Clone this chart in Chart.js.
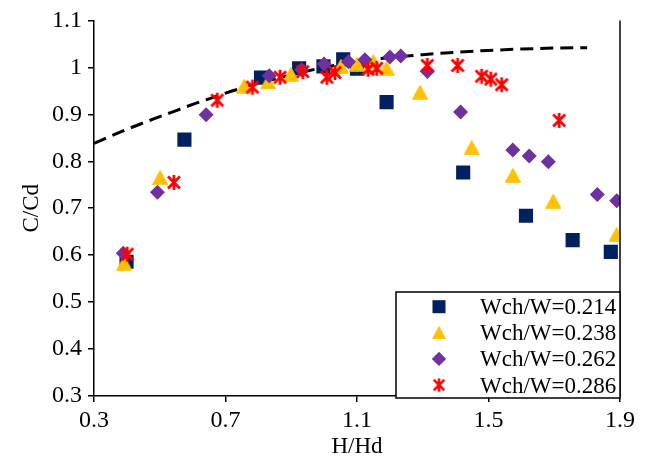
<!DOCTYPE html>
<html>
<head>
<meta charset="utf-8">
<script src="https://cdn.jsdelivr.net/npm/chart.js@4/dist/chart.umd.min.js"></script>
<style>
  html, body { margin: 0; padding: 0; background: #ffffff; }
  #wrap { width: 645px; height: 462px; }
</style>
</head>
<body>
<div id="wrap"><canvas id="c" width="645" height="462"></canvas></div>
<script>
// ---------------- data ----------------
const seriesLabels = ['Wch/W=0.214', 'Wch/W=0.238', 'Wch/W=0.262', 'Wch/W=0.286'];

const s214X = [0.399, 0.575, 0.808, 0.924, 0.998, 1.058, 1.100, 1.190, 1.423, 1.614, 1.756, 1.872];
const s214Y = [0.586, 0.846, 0.978, 0.998, 1.002, 1.017, 0.997, 0.926, 0.776, 0.684, 0.632, 0.607];

const s238X = [0.392, 0.501, 0.757, 0.830, 0.899, 1.051, 1.100, 1.150, 1.190, 1.292, 1.449, 1.574, 1.697, 1.890];
const s238Y = [0.583, 0.765, 0.960, 0.969, 0.985, 1.002, 1.007, 1.012, 0.998, 0.947, 0.829, 0.770, 0.715, 0.644];

const s262X = [0.389, 0.493, 0.641, 0.833, 0.932, 1.000, 1.074, 1.124, 1.200, 1.233, 1.314, 1.415, 1.574, 1.624, 1.682, 1.831, 1.890];
const s262Y = [0.604, 0.734, 0.899, 0.982, 0.995, 1.007, 1.012, 1.016, 1.022, 1.024, 0.991, 0.905, 0.824, 0.811, 0.799, 0.729, 0.716];

const s286X = [0.401, 0.543, 0.675, 0.782, 0.866, 0.935, 1.008, 1.033, 1.134, 1.160, 1.314, 1.406, 1.479, 1.507, 1.540, 1.715];
const s286Y = [0.602, 0.755, 0.930, 0.958, 0.979, 0.991, 0.979, 0.989, 0.996, 0.998, 1.004, 1.004, 0.981, 0.975, 0.963, 0.887];

const curveX = [0.30, 0.40, 0.50, 0.55, 0.60, 0.65, 0.70, 0.75, 0.80, 0.90, 1.00, 1.10, 1.20, 1.30, 1.40, 1.50, 1.60, 1.70, 1.80];
const curveY = [0.838, 0.868, 0.895, 0.908, 0.921, 0.933, 0.945, 0.956, 0.966, 0.984, 1.000, 1.012, 1.021, 1.027, 1.032, 1.036, 1.039, 1.041, 1.042];

const xTicks = [0.3, 0.7, 1.1, 1.5, 1.9];
const xTickLabels = ['0.3', '0.7', '1.1', '1.5', '1.9'];
const yTicks = [0.3, 0.4, 0.5, 0.6, 0.7, 0.8, 0.9, 1.0, 1.1];
const yTickLabels = ['0.3', '0.4', '0.5', '0.6', '0.7', '0.8', '0.9', '1', '1.1'];

const xTitle = 'H/Hd';
const yTitle = 'C/Cd';

// ---------------- styles ----------------
const FONT = '"Liberation Serif", "Times New Roman", serif';
const NAVY = '#002060', GOLD = '#FFC000', PURPLE = '#7030A0', RED = '#FF0000';

function pts(xs, ys) { return xs.map((x, i) => ({ x: x, y: ys[i] })); }

function makeTriangle() {
  const c = document.createElement('canvas');
  c.width = 16; c.height = 15;
  const g = c.getContext('2d');
  g.fillStyle = GOLD; g.strokeStyle = GOLD; g.lineWidth = 1.2; g.lineJoin = 'round';
  g.beginPath();
  g.moveTo(8, 0.8); g.lineTo(15.3, 14.2); g.lineTo(0.7, 14.2); g.closePath();
  g.fill(); g.stroke();
  return c;
}
function makeStar() {
  const c = document.createElement('canvas');
  c.width = 16; c.height = 17;
  const g = c.getContext('2d');
  g.strokeStyle = RED; g.lineWidth = 2.8; g.lineCap = 'butt';
  g.beginPath();
  g.moveTo(2, 2.5); g.lineTo(14, 14.5);
  g.moveTo(14, 2.5); g.lineTo(2, 14.5);
  g.moveTo(8, 1); g.lineTo(8, 16);
  g.stroke();
  return c;
}
const triImg = makeTriangle();
const starImg = makeStar();

// ---------------- plugins ----------------
const rightBorder = {
  id: 'rightBorder',
  afterDatasetsDraw(chart) {
    const a = chart.chartArea, ctx = chart.ctx;
    ctx.save();
    ctx.strokeStyle = '#000'; ctx.lineWidth = 1.5;
    ctx.beginPath();
    ctx.moveTo(a.right, a.top); ctx.lineTo(a.right, a.bottom);
    ctx.stroke();
    ctx.restore();
  }
};

const boxLegend = {
  id: 'boxLegend',
  afterDraw(chart) {
    const a = chart.chartArea, ctx = chart.ctx;
    const right = a.right, bottom = a.bottom + 2;
    const w = 224, h = 106;
    const left = right - w, top = bottom - h;
    ctx.save();
    ctx.fillStyle = '#fff';
    ctx.fillRect(left, top, w, h);
    ctx.strokeStyle = '#000'; ctx.lineWidth = 1.5;
    ctx.strokeRect(left, top, w, h);
    ctx.font = '23px ' + FONT;
    ctx.textAlign = 'left'; ctx.textBaseline = 'alphabetic';
    const mx = left + 43, tx = left + 84;
    chart.data.datasets.slice(0, 4).forEach((ds, i) => {
      const cy = top + 14.7 + i * 26.1;
      if (i === 0) {
        ctx.fillStyle = NAVY; ctx.fillRect(mx - 6.5, cy - 6.5, 13, 13);
      } else if (i === 1) {
        ctx.drawImage(triImg, mx - 7, cy - 6.5, 14, 13);
      } else if (i === 2) {
        ctx.fillStyle = PURPLE; ctx.beginPath();
        ctx.moveTo(mx, cy - 7.2); ctx.lineTo(mx + 7.2, cy); ctx.lineTo(mx, cy + 7.2); ctx.lineTo(mx - 7.2, cy);
        ctx.closePath(); ctx.fill();
      } else {
        ctx.drawImage(starImg, mx - 7, cy - 7.5, 14, 15);
      }
      ctx.fillStyle = '#000';
      ctx.fillText(ds.label, tx, cy + 7.5);
    });
    ctx.restore();
  }
};

// ---------------- chart ----------------
const tickFont = { family: FONT, size: 24 };
const titleFont = { family: FONT, size: 23 };

new Chart(document.getElementById('c'), {
  type: 'scatter',
  data: {
    datasets: [
      { label: seriesLabels[0], data: pts(s214X, s214Y), pointStyle: 'rect', pointRadius: 10, pointHoverRadius: 10,
        backgroundColor: NAVY, borderColor: NAVY, borderWidth: 0, order: 3 },
      { label: seriesLabels[1], data: pts(s238X, s238Y), pointStyle: triImg, pointRadius: 8,
        backgroundColor: GOLD, borderColor: GOLD, order: 2 },
      { label: seriesLabels[2], data: pts(s262X, s262Y), pointStyle: 'rectRot', pointRadius: 7.5, pointHoverRadius: 7.5,
        backgroundColor: PURPLE, borderColor: PURPLE, borderWidth: 0, order: 1 },
      { label: seriesLabels[3], data: pts(s286X, s286Y), pointStyle: starImg, pointRadius: 8,
        backgroundColor: RED, borderColor: RED, order: 0 },
      { label: 'curve', data: pts(curveX, curveY), showLine: true, pointRadius: 0, pointHoverRadius: 0,
        borderColor: '#000', borderWidth: 3, borderDash: [13, 7], cubicInterpolationMode: 'monotone',
        fill: false, order: 5 }
    ]
  },
  options: {
    responsive: false,
    animation: false,
    devicePixelRatio: 1,
    layout: { padding: { left: 18, right: 25, top: 18, bottom: 1 } },
    plugins: { legend: { display: false }, tooltip: { enabled: false } },
    scales: {
      x: {
        type: 'linear', min: 0.3, max: 1.9,
        afterBuildTicks: s => { s.ticks = xTicks.map(v => ({ value: v })); },
        afterFit: s => { s.height = 65; },
        ticks: { callback: (v, i) => xTickLabels[i], font: tickFont, color: '#000', padding: 4, maxRotation: 0, autoSkip: false },
        grid: { drawOnChartArea: false, drawTicks: true, tickLength: 6, color: '#000', lineWidth: 1.5 },
        border: { display: true, color: '#000', width: 1.5 },
        title: { display: true, text: xTitle, font: titleFont, color: '#000', padding: 0 }
      },
      y: {
        type: 'linear', min: 0.3, max: 1.1,
        afterBuildTicks: s => { s.ticks = yTicks.map(v => ({ value: v })); },
        afterFit: s => { s.width = 76; },
        ticks: { callback: (v, i) => yTickLabels[i], font: tickFont, color: '#000', padding: 6, autoSkip: false },
        grid: { drawOnChartArea: false, drawTicks: true, tickLength: 6, color: '#000', lineWidth: 1.5 },
        border: { display: true, color: '#000', width: 1.5 },
        title: { display: true, text: yTitle, font: titleFont, color: '#000', padding: 0 }
      }
    }
  },
  plugins: [rightBorder, boxLegend]
});
</script>
</body>
</html>
